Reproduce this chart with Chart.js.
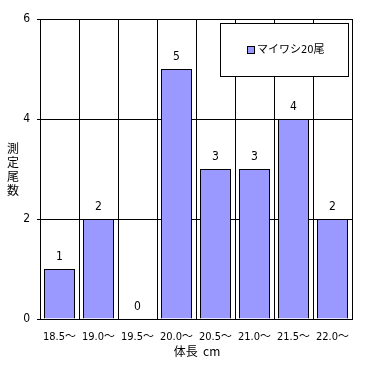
<!DOCTYPE html>
<html>
<head>
<meta charset="utf-8">
<script src="https://cdn.jsdelivr.net/npm/chart.js@4"></script>
<style>
  html, body { margin: 0; padding: 0; background: #fff; }
  canvas { display: block; }
</style>
</head>
<body>
<canvas id="c" width="371" height="365"></canvas>
<script>
const categories = ["18.5～", "19.0～", "19.5～", "20.0～", "20.5～", "21.0～", "21.5～", "22.0～"];
const counts = [1, 2, 0, 5, 3, 3, 4, 2];
const seriesLabel = "マイワシ20尾";
const yTicks = [0, 2, 4, 6];
const xTitle = "体長  cm";
const yTitle = ["測", "定", "尾", "数"];

const FONT = '"DejaVu Sans Condensed", "Noto Sans CJK JP", sans-serif';
const JFONT = '"Noto Sans CJK JP", sans-serif';

const extras = {
  id: "extras",
  afterDraw(chart) {
    const ctx = chart.ctx;
    const meta = chart.getDatasetMeta(0);
    ctx.save();
    ctx.fillStyle = "#000";
    ctx.font = "12px " + FONT;
    ctx.textAlign = "center";
    ctx.textBaseline = "middle";
    meta.data.forEach((bar, i) => {
      ctx.fillText(String(counts[i]), bar.x, bar.y - 12);
    });

    // y title, one character per line
    ctx.font = "12px " + JFONT;
    yTitle.forEach((ch, i) => ctx.fillText(ch, 13, 148 + i * 14));

    // x title
    const a = chart.chartArea;
    ctx.fillText(xTitle, (a.left + a.right) / 2 + 1, 351);

    // legend box inside plot
    ctx.fillStyle = "#fff";
    ctx.fillRect(220.5, 23.5, 128, 53);
    ctx.strokeStyle = "#000";
    ctx.lineWidth = 1;
    ctx.strokeRect(220.5, 23.5, 128, 53);
    ctx.fillStyle = "#9999ff";
    ctx.fillRect(247.5, 46.5, 7, 7);
    ctx.strokeRect(247.5, 46.5, 7, 7);
    ctx.fillStyle = "#000";
    ctx.textAlign = "left";
    ctx.font = "11px " + FONT;
    ctx.fillText(chart.data.datasets[0].label, 257, 50);
    ctx.restore();
  }
};

new Chart(document.getElementById("c"), {
  type: "bar",
  data: {
    labels: categories,
    datasets: [{
      label: seriesLabel,
      data: counts,
      backgroundColor: "#9999ff",
      borderColor: "#000",
      borderWidth: 1,
      barPercentage: 31 / 39,
      categoryPercentage: 1.0
    }]
  },
  options: {
    responsive: false,
    animation: false,
    layout: { padding: { top: 19, right: 19, left: 0, bottom: 0 } },
    plugins: { legend: { display: false }, tooltip: { enabled: false } },
    scales: {
      x: {
        afterFit: (s) => { s.height = 46; },
        grid: { color: "#000", drawTicks: false, offset: true },
        border: { color: "#000" },
        ticks: { color: "#000", font: { size: 11, family: FONT }, padding: 12, maxRotation: 0, autoSkip: false }
      },
      y: {
        min: 0,
        max: 6,
        afterFit: (s) => { s.width = 40; },
        afterBuildTicks: (s) => { s.ticks = yTicks.map((v) => ({ value: v })); },
        grid: { color: "#000", tickLength: 3 },
        border: { color: "#000" },
        ticks: { color: "#000", font: { size: 12, family: FONT }, padding: 7 }
      }
    }
  },
  plugins: [extras]
});
</script>
</body>
</html>
